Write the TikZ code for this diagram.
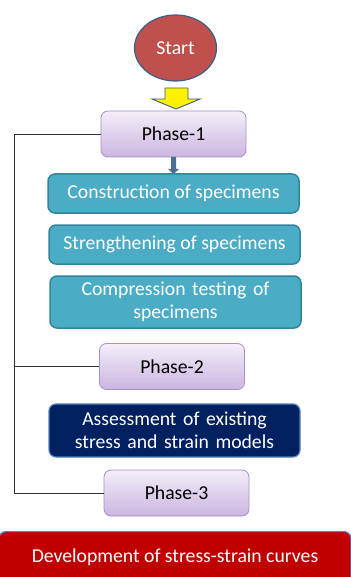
\documentclass[tikz,border=0pt]{standalone}
\usepackage{fontspec}
\setmainfont{Carlito}
\usetikzlibrary{shapes.geometric,shapes.arrows}
\definecolor{startred}{HTML}{C0504D}
\definecolor{edgeblue}{HTML}{385D8A}
\definecolor{teal}{HTML}{4BACC6}
\definecolor{tealedge}{HTML}{31849B}
\definecolor{navy}{HTML}{002060}
\definecolor{navyedge}{HTML}{4F81BD}
\definecolor{devred}{HTML}{C00000}
\definecolor{phtop}{HTML}{F4EEFA}
\definecolor{phbot}{HTML}{CAB5E0}
\definecolor{phedge}{HTML}{A391C8}
\tikzset{
  txt/.style={font=\fontsize{19.7}{23.5}\selectfont, align=center},
  phasebox/.style={txt, draw=phedge, line width=0.8pt, rounded corners=7pt, top color=phtop, bottom color=phbot, minimum width=145pt, minimum height=46pt, text=black},
  tealbox/.style={txt, draw=tealedge, line width=1.5pt, rounded corners=7pt, fill=teal, minimum width=251pt, text=white},
  navybox/.style={txt, draw=navyedge, line width=1.2pt, rounded corners=7pt, fill=navy, minimum width=251pt, minimum height=53pt, text=white},
  link/.style={draw=black!80, line width=0.7pt}
}
\begin{document}
\begin{tikzpicture}[x=1pt,y=-1pt]
\useasboundingbox (0,0) rectangle (350,577);
\node[ellipse, draw=edgeblue, line width=1.2pt, fill=startred, minimum width=82pt, minimum height=66pt, txt, text=white] (start) at (175.5,48) {Start};
% yellow block arrow
\draw[draw=edgeblue, line width=0.9pt, fill=yellow] (165,88) -- (188,88) -- (188,99) -- (200,99) -- (176,109) -- (152,99) -- (165,99) -- cycle;
\node[phasebox] (p1) at (173.5,134) {Phase-1};
\node[tealbox, minimum height=39pt] (c1) at (173.5,193.5) {Construction of specimens};
\node[tealbox, minimum height=39pt] (c2) at (174.5,244.5) {Strengthening of specimens};
\node[tealbox, minimum height=52pt, text width=235pt] (c3) at (175.5,302) {Compression testing of\\specimens};
\node[phasebox] (p2) at (172,366.5) {Phase-2};
\node[navybox, text width=240pt] (as) at (174.5,430.5) {Assessment of existing\\stress and strain models};
\node[phasebox] (p3) at (176.5,493) {Phase-3};
\node[txt, draw=navyedge, line width=1.2pt, rounded corners=7pt, fill=devred, text=white, minimum width=352pt, minimum height=52pt, anchor=north] (dev) at (175,531) {Development of stress-strain curves};
% small blue arrow
\fill[edgeblue!90!white] (171,157) -- (176,157) -- (176,169) -- (179,169) -- (173.5,174) -- (168,169) -- (171,169) -- cycle;
% left bracket connector
\coordinate (l1) at (14,134);
\coordinate (l2) at (14,366.5);
\coordinate (l3) at (14,493);
\draw[link] (p1.west) -- (l1) -- (l3) -- (p3.west);
\draw[link] (l2) -- (p2.west);
\end{tikzpicture}
\end{document}
